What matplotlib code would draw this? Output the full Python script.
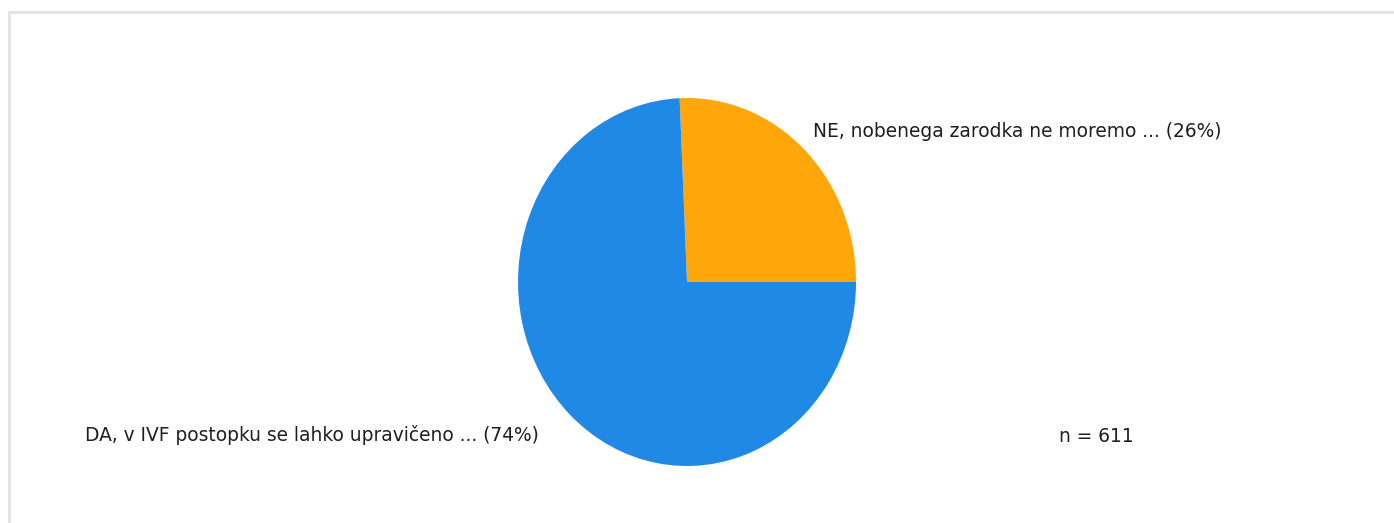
import matplotlib
matplotlib.use("Agg")
import matplotlib.pyplot as plt
from matplotlib.patches import Rectangle

# Survey answers (counts), n = 611
labels = ["NE, nobenega zarodka ne moremo ...", "DA, v IVF postopku se lahko upravičeno ..."]
counts = [157, 454]
colors = ["#FFA60A", "#1F89E5"]
n_total = sum(counts)

W, H = 1394, 523
fig = plt.figure(figsize=(W / 100, H / 100), dpi=100)
fig.patch.set_facecolor("white")

# Light panel frame (top and left edges visible)
frame = Rectangle((8.5 / W, -0.2), 1.2, (1 - 11.5 / H) + 0.2,
                  transform=fig.transFigure, fill=False,
                  edgecolor="#E3E3E3", linewidth=2.0)
fig.patches.append(frame)

# Pie axes: slightly taller than wide
cx, cy, rx, ry = 687, 282, 169, 184
ax = fig.add_axes([(cx - rx) / W, (H - (cy + ry)) / H, 2 * rx / W, 2 * ry / H])
ax.pie(counts, colors=colors, startangle=0, counterclock=True,
       wedgeprops=dict(linewidth=0, antialiased=True))
ax.set_aspect("auto")
ax.set_xlim(-1, 1)
ax.set_ylim(-1, 1)
ax.axis("off")

pcts = [round(100 * c / n_total) for c in counts]
font = dict(family="DejaVu Sans", size=13.4, color="#1E1E1E", va="baseline", ha="left")
fig.text(813 / W, 1 - 137 / H, f"{labels[0]} ({pcts[0]}%)", **font)
fig.text(85 / W, 1 - 441 / H, f"{labels[1]} ({pcts[1]}%)", **font)
fig.text(1059 / W, 1 - 442 / H, f"n = {n_total}", **font)

fig.savefig("out.png", dpi=100, facecolor="white")
